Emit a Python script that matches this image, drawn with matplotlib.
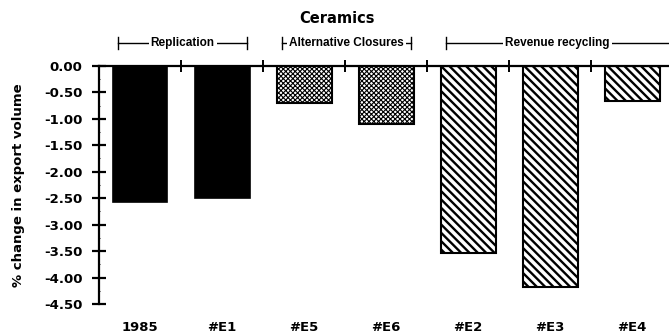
import matplotlib.pyplot as plt
import matplotlib.transforms as mtransforms
from matplotlib.ticker import MultipleLocator

# % change in export volume for ceramics under each scenario
categories = ["1985", "#E1", "#E5", "#E6", "#E2", "#E3", "#E4"]
values = [-2.58, -2.50, -0.70, -1.10, -3.54, -4.18, -0.66]

# scenario groups: (label, first bar, last bar)
groups = [("Replication", 0, 1), ("Alternative Closures", 2, 3), ("Revenue recycling", 4, 6)]

yticks = [0.0, -0.5, -1.0, -1.5, -2.0, -2.5, -3.0, -3.5, -4.0, -4.5]

plt.rcParams['font.family'] = 'DejaVu Sans'

fig = plt.figure(figsize=(6.69, 3.36), dpi=100)
ax = fig.add_axes([0.148, 0.095, 0.852, 0.709])

x = list(range(len(categories)))
width = 0.67

# solid bars for replication
ax.bar(x[0:2], values[0:2], width, color="black", edgecolor="black", linewidth=1.2)

# stippled bars for alternative closures
with plt.rc_context({'hatch.linewidth': 0.8}):
    ax.bar(x[2:4], values[2:4], width, color="white", edgecolor="black",
           linewidth=1.5, hatch="xxxxxxx")

# striped bars for revenue recycling
with plt.rc_context({'hatch.linewidth': 1.7}):
    ax.bar(x[4:7], values[4:7], width, color="white", edgecolor="black",
           linewidth=1.5, hatch="\\\\\\\\")

ax.set_xlim(-0.5, 6.45)
ax.set_ylim(-4.5, 0)

# axis line sits at zero along the top, boundaries ticked between bars
ax.spines['bottom'].set_visible(False)
ax.spines['right'].set_visible(False)
ax.spines['top'].set_linewidth(1.6)
ax.spines['left'].set_linewidth(1.6)

ax.set_yticks(yticks)
ax.set_yticklabels(["%.2f" % v for v in yticks], fontsize=9.5, fontweight="bold")
ax.yaxis.set_minor_locator(MultipleLocator(0.25))
ax.tick_params(axis="y", which="major", direction="inout", length=10, width=1.6, pad=7)
ax.tick_params(axis="y", which="minor", direction="inout", length=2, width=0.6)

ax.set_xticks(x)
ax.set_xticklabels(categories, fontsize=9.5, fontweight="bold")
ax.tick_params(axis="x", which="major", bottom=True, top=False, length=0, pad=12)
ax.set_xticks([i + 0.5 for i in range(6)], minor=True)
ax.tick_params(axis="x", which="minor", bottom=False, top=True, direction="inout",
               length=9, width=1.4)

ax.set_ylabel("% change in export volume", fontsize=9.5, fontweight="bold")
ax.yaxis.set_label_coords(-0.13, 0.5)

fig.text(0.503, 0.945, "Ceramics", ha="center", va="center", fontsize=10.5, fontweight="bold")

# group brackets above the plot
trans = mtransforms.blended_transform_factory(ax.transData, ax.transAxes)
yb = 1.097
for label, first, last in groups:
    x0 = first - 0.27
    x1 = last + 0.31
    if last == len(categories) - 1:
        x1 = 6.45
    ax.plot([x0, x1], [yb, yb], color="black", lw=1.0, transform=trans, clip_on=False)
    ax.plot([x0, x0], [yb - 0.025, yb + 0.025], color="black", lw=1.0, transform=trans, clip_on=False)
    if last != len(categories) - 1:
        ax.plot([x1, x1], [yb - 0.025, yb + 0.025], color="black", lw=1.0, transform=trans, clip_on=False)
    ax.text((x0 + x1) / 2, yb, label, transform=trans, ha="center", va="center",
            fontsize=8.5, fontweight="bold", family="Liberation Sans",
            bbox=dict(facecolor="white", edgecolor="none", pad=1.5))

fig.savefig("out.png", dpi=100)
